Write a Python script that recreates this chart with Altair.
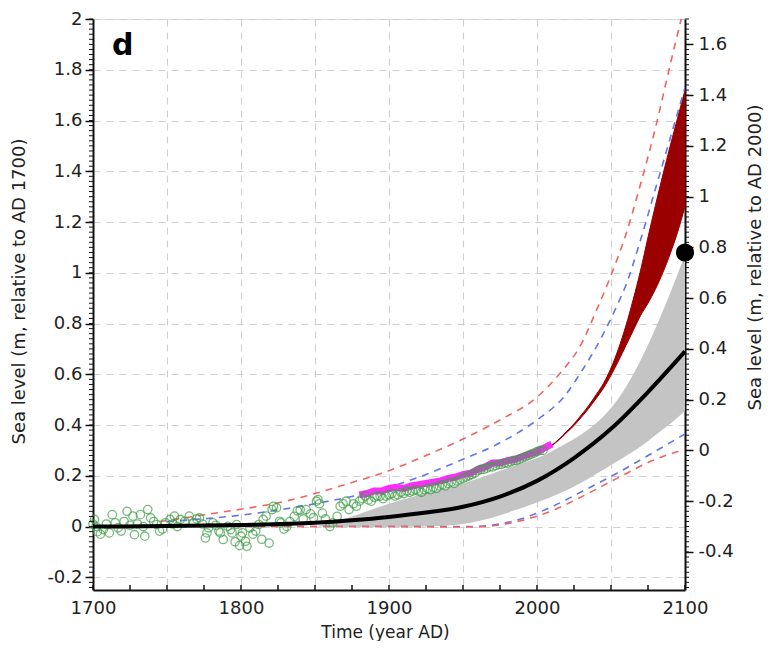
import altair as alt
import pandas as pd

# ---------------- data ----------------
# grey model band (relative to AD 1700)
gray_years = [1850, 1875, 1900, 1925, 1950, 1975, 2000, 2011, 2029, 2045, 2058, 2070, 2080, 2090, 2100]
gray_upper = [0.0, 0.04, 0.09, 0.13, 0.17, 0.22, 0.27, 0.30, 0.36, 0.435, 0.53, 0.655, 0.78, 0.92, 1.07]
gray_lower = [0.0, -0.002, -0.002, 0.0, 0.01, 0.045, 0.095, 0.12, 0.17, 0.225, 0.27, 0.315, 0.36, 0.405, 0.455]

# dark red band
red_years = [2008, 2010, 2015, 2020, 2025, 2030, 2035, 2040, 2045, 2050, 2055, 2060, 2065, 2070, 2075,
             2080, 2085, 2090, 2095, 2100]
red_upper = [0.31, 0.32, 0.345, 0.375, 0.405, 0.44, 0.477, 0.52, 0.565, 0.625, 0.70, 0.79, 0.895, 1.01, 1.14,
             1.265, 1.385, 1.50, 1.61, 1.72]
red_lower = [0.31, 0.319, 0.342, 0.37, 0.398, 0.431, 0.466, 0.505, 0.546, 0.596, 0.652, 0.712, 0.772, 0.832, 0.88,
             0.935, 1.0, 1.075, 1.16, 1.26]

# black median
black_years = [1700, 1750, 1800, 1850, 1875, 1900, 1925, 1950, 1975, 2000, 2025, 2050, 2075, 2100]
black_vals = [0.0, 0.002, 0.006, 0.015, 0.025, 0.038, 0.055, 0.078, 0.118, 0.18, 0.27, 0.385, 0.53, 0.69]

# dashed envelopes
red_up_years = [1745, 1785, 1830, 1850, 1870, 1900, 1925, 1950, 1975, 2000, 2015, 2030, 2040, 2050, 2060, 2070, 2080, 2090, 2100]
red_up_vals = [0.02, 0.055, 0.10, 0.13, 0.165, 0.22, 0.28, 0.345, 0.42, 0.51, 0.60, 0.72, 0.85, 0.99, 1.15, 1.35, 1.57, 1.82, 2.06]
blue_up_years = [1750, 1800, 1850, 1900, 1950, 1975, 2000, 2018, 2031, 2044, 2054, 2060, 2070, 2080, 2090, 2100]
blue_up_vals = [0.02, 0.045, 0.09, 0.155, 0.265, 0.33, 0.42, 0.51, 0.62, 0.75, 0.87, 0.95, 1.13, 1.33, 1.53, 1.73]
low_years = [1750, 1800, 1850, 1900, 1955, 1970, 1983, 2007, 2031, 2054, 2078, 2100]
blue_low_vals = [0.0, 0.0, 0.0, 0.0, 0.0, 0.006, 0.02, 0.07, 0.14, 0.21, 0.29, 0.365]
red_low_vals = [0.0, 0.0, 0.0, 0.0, -0.002, 0.003, 0.015, 0.055, 0.12, 0.19, 0.26, 0.305]

# magenta observations
mag_years = [1880, 1885, 1890, 1895, 1900, 1905, 1910, 1915, 1920, 1925, 1930, 1935, 1940, 1945,
             1950, 1955, 1960, 1965, 1970, 1975, 1980, 1985, 1990, 1995, 2000, 2005, 2010]
mag_vals = [0.125, 0.13, 0.14, 0.14, 0.15, 0.155, 0.15, 0.16, 0.165, 0.17, 0.175, 0.18, 0.19, 0.195,
            0.205, 0.21, 0.225, 0.235, 0.25, 0.25, 0.26, 0.265, 0.275, 0.285, 0.295, 0.31, 0.325]

# green circles (proxy / tide-gauge record)
green_years = [1700, 1701, 1702, 1703, 1705, 1707, 1709, 1711, 1713, 1715, 1717, 1719, 1721, 1723, 1725,
               1727, 1728, 1730, 1732, 1734, 1735, 1737, 1739, 1741, 1743, 1745, 1747, 1749, 1752, 1754,
               1755, 1757, 1759, 1762, 1765, 1768, 1770, 1772, 1774, 1776, 1777, 1778, 1781, 1783, 1785,
               1786, 1788, 1791, 1793, 1794, 1796, 1797, 1799, 1800, 1801, 1803, 1804, 1806, 1808, 1810,
               1812, 1814, 1815, 1817, 1819, 1821, 1822, 1824, 1826, 1827, 1829, 1831, 1833, 1836, 1838,
               1840, 1842, 1844, 1847, 1849, 1851, 1852, 1853, 1855, 1857, 1860, 1862, 1865, 1867, 1869,
               1871, 1873, 1876, 1878,
               1880, 1882, 1884, 1886, 1888, 1890, 1892, 1894, 1896, 1898, 1900, 1902, 1904, 1906, 1908,
               1910, 1912, 1914, 1916, 1918, 1920, 1922, 1924, 1926, 1928, 1930, 1932, 1934, 1936, 1938,
               1940, 1942, 1944, 1946, 1948, 1950, 1952, 1954, 1956, 1958, 1960, 1962, 1964, 1966, 1968,
               1970, 1972, 1974, 1976, 1978, 1980, 1982, 1984, 1986, 1988, 1990, 1992, 1994, 1996, 1998,
               2000, 2002, 2004]
green_vals = [0.01, 0.028, 0.0, -0.02, -0.03, -0.012, 0.01, -0.025, 0.047, 0.015, -0.005, -0.018, 0.02, 0.06, 0.005,
              0.041, -0.032, 0.01, 0.047, 0.0, -0.038, 0.067, 0.034, 0.02, 0.008, -0.018, -0.01, 0.015, 0.028, 0.01,
              0.041, 0.0, 0.028, 0.021, 0.041, 0.015, 0.03, 0.034, 0.01, -0.045, -0.025, -0.005, 0.015, 0.005, -0.018,
              -0.025, -0.051, 0.001, -0.012, -0.025, -0.06, 0.008, -0.075, -0.038, -0.025, -0.058, -0.078, -0.005, -0.03, -0.018,
              0.008, -0.05, 0.028, 0.041, -0.065, 0.067, 0.08, 0.074, 0.021, 0.015, -0.01, 0.0, 0.02, 0.04, 0.062,
              0.066, 0.03, 0.067, 0.05, 0.035, 0.1, 0.106, 0.09, 0.053, 0.03, 0.0, 0.015, 0.04, 0.08, 0.09,
              0.1, 0.067, 0.09, 0.08,
              0.10, 0.11, 0.12, 0.105, 0.10, 0.115, 0.12, 0.12, 0.11, 0.12, 0.125, 0.13, 0.12, 0.125, 0.135,
              0.13, 0.14, 0.135, 0.14, 0.145, 0.14, 0.135, 0.145, 0.15, 0.145, 0.155, 0.15, 0.16, 0.165, 0.16,
              0.17, 0.175, 0.17, 0.18, 0.185, 0.19, 0.195, 0.2, 0.205, 0.21, 0.22, 0.225, 0.225, 0.23, 0.235,
              0.235, 0.24, 0.245, 0.245, 0.25, 0.25, 0.255, 0.26, 0.26, 0.265, 0.27, 0.275, 0.28, 0.285, 0.29,
              0.295, 0.3, 0.3]

# black dot (right axis, relative to AD 2000)
dot_year = [2100]
dot_val_ad2000 = [0.78]

# axis ticks / labels
x_grid_vals = [1700, 1750, 1800, 1850, 1900, 1950, 2000, 2050, 2100]
x_minor = [1700, 1725, 1750, 1775, 1800, 1825, 1850, 1875, 1900, 1925, 1950, 1975, 2000, 2025, 2050, 2075, 2100]
y_left_vals = [-0.2, 0, 0.2, 0.4, 0.6, 0.8, 1, 1.2, 1.4, 1.6, 1.8, 2]
y_right_vals = [-0.4, -0.2, 0, 0.2, 0.4, 0.6, 0.8, 1, 1.2, 1.4, 1.6]
y_minor = [round(i * 0.02, 2) for i in range(-12, 101)]

# ---------------- chart ----------------
W, H = 592, 571
FONT = "DejaVu Sans"
TXT = "#222222"

xs = alt.Scale(domain=[1700, 2100], nice=False, zero=False)
ys = alt.Scale(domain=[-0.25, 2.0], nice=False, zero=False)
ys_r = alt.Scale(domain=[-0.55, 1.7], nice=False, zero=False)

x_axis = alt.Axis(values=x_grid_vals, labelExpr="datum.value % 100 == 0 ? '' + datum.value : ''",
                  title="Time (year AD)", grid=True, gridDash=[7, 6], gridColor="#cfcfcf", gridWidth=1.1,
                  ticks=False, labelPadding=9, labelFlush=False, labelOverlap=False,
                  domainColor="#111111", domainWidth=2,
                  labelFont=FONT, labelFontSize=18, labelColor=TXT,
                  titleFont=FONT, titleFontSize=17, titleFontWeight="normal", titleColor=TXT,
                  titleX=292, titleY=42, titleBaseline="middle", titleAlign="center")
y_axis = alt.Axis(values=y_left_vals, labelExpr="'' + datum.value", orient="left",
                  title="Sea level (m, relative to AD 1700)", grid=True, gridDash=[7, 6],
                  gridColor="#cfcfcf", gridWidth=1.1, tickSize=8, tickWidth=1.5, tickColor="#111111",
                  labelPadding=3, labelFlush=False, labelOverlap=False,
                  domainColor="#111111", domainWidth=2,
                  labelFont=FONT, labelFontSize=18, labelColor=TXT,
                  titleFont=FONT, titleFontSize=18, titleFontWeight="normal", titleColor=TXT,
                  titleAngle=270, titleX=-74, titleY=272, titleBaseline="middle", titleAlign="center")
y_axis_r = alt.Axis(values=y_right_vals, labelExpr="'' + datum.value", orient="right",
                    title="Sea level (m, relative to AD 2000)", grid=False, tickSize=8, tickWidth=1.5,
                    tickColor="#111111", labelPadding=5, labelFlush=False, labelOverlap=False,
                    domainColor="#111111", domainWidth=2,
                    labelFont=FONT, labelFontSize=18, labelColor=TXT,
                    titleFont=FONT, titleFontSize=18, titleFontWeight="normal", titleColor=TXT,
                    titleAngle=270, titleX=70, titleY=238, titleBaseline="middle", titleAlign="center")

gray_df = pd.DataFrame({"year": gray_years, "lo": gray_lower, "hi": gray_upper})
red_df = pd.DataFrame({"year": red_years, "lo": red_lower, "hi": red_upper})
black_df = pd.DataFrame({"year": black_years, "v": black_vals})
dash_df = pd.concat([
    pd.DataFrame({"year": red_up_years, "v": red_up_vals, "s": "red_up"}),
    pd.DataFrame({"year": blue_up_years, "v": blue_up_vals, "s": "blue_up"}),
    pd.DataFrame({"year": low_years, "v": blue_low_vals, "s": "blue_low"}),
    pd.DataFrame({"year": low_years, "v": red_low_vals, "s": "red_low"}),
])
mag_df = pd.DataFrame({"year": mag_years, "v": mag_vals})
green_df = pd.DataFrame({"year": green_years, "v": green_vals})
dot_df = pd.DataFrame({"year": dot_year, "v": dot_val_ad2000})
xt_df = pd.DataFrame({"t": x_minor})
yt_df = pd.DataFrame({"t": y_minor})

X = lambda f: alt.X(f, scale=xs, axis=x_axis)

gray = alt.Chart(gray_df).mark_area(color="#c4c4c4", opacity=1, interpolate="natural").encode(
    x=X("year:Q"),
    y=alt.Y("lo:Q", scale=ys, axis=y_axis),
    y2="hi:Q",
)
red = alt.Chart(red_df).mark_area(color="#9a0000", opacity=1, stroke="#9a0000", strokeWidth=1,
                                  interpolate="monotone").encode(
    x=X("year:Q"),
    y=alt.Y("lo:Q", scale=ys, axis=None),
    y2="hi:Q",
)
dashed = alt.Chart(dash_df).mark_line(strokeDash=[7, 6], strokeWidth=1.6, clip=True, interpolate="monotone").encode(
    x=X("year:Q"),
    y=alt.Y("v:Q", scale=ys, axis=None),
    color=alt.Color("s:N", scale=alt.Scale(domain=["red_up", "blue_up", "blue_low", "red_low"],
                                           range=["#f06464", "#6474ee", "#6474ee", "#f06464"]), legend=None),
    detail="s:N",
)
mag = alt.Chart(mag_df).mark_line(color="#ff2bff", strokeWidth=7).encode(
    x=X("year:Q"),
    y=alt.Y("v:Q", scale=ys, axis=None),
)
green = alt.Chart(green_df).mark_point(shape="circle", filled=False, color="#3f9e48", size=70, strokeWidth=1.3).encode(
    x=X("year:Q"),
    y=alt.Y("v:Q", scale=ys, axis=None),
)
black = alt.Chart(black_df).mark_line(color="#000000", strokeWidth=4, interpolate="monotone").encode(
    x=X("year:Q"),
    y=alt.Y("v:Q", scale=ys, axis=None),
)
xticks = alt.Chart(xt_df).mark_rule(color="#111111", strokeWidth=1.5).encode(
    x=X("t:Q"),
    y=alt.value(H),
    y2=alt.value(H - 5),
)
yticks_l = alt.Chart(yt_df).mark_rule(color="#111111", strokeWidth=1).encode(
    y=alt.Y("t:Q", scale=ys, axis=None),
    x=alt.value(0),
    x2=alt.value(-4),
)
yticks_r = alt.Chart(yt_df).mark_rule(color="#111111", strokeWidth=1).encode(
    y=alt.Y("t:Q", scale=ys, axis=None),
    x=alt.value(W),
    x2=alt.value(W + 4),
)
dot = alt.Chart(dot_df).mark_circle(color="#000000", size=330, opacity=1).encode(
    x=X("year:Q"),
    y=alt.Y("v:Q", scale=ys_r, axis=y_axis_r),
)

chart = alt.layer(gray, red, dashed, mag, green, black, xticks, yticks_l, yticks_r, dot).resolve_scale(
    y="independent"
).properties(
    width=W,
    height=H,
    title=alt.TitleParams("d", anchor="start", frame="group", font=FONT, fontSize=30, fontWeight="bold",
                          color="#000000", dx=19, dy=75, baseline="alphabetic", offset=0),
    padding={"left": 85, "top": 11, "right": 79, "bottom": 51},
    autosize=alt.AutoSizeParams(type="none"),
).configure_view(stroke=None).configure(background="#ffffff")

chart.save("out.html", embed_options={"renderer": "svg", "actions": False})
